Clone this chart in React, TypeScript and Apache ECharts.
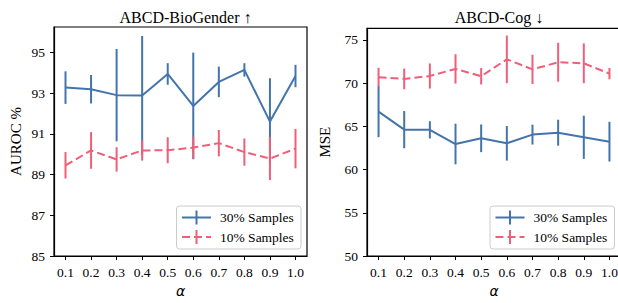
import React, { useEffect, useRef } from "react";
import * as echarts from "echarts";

const alphas = [0.1, 0.2, 0.3, 0.4, 0.5, 0.6, 0.7, 0.8, 0.9, 1.0];

const bioMean30 = [93.28, 93.2, 92.91, 92.89, 93.95, 92.38, 93.56, 94.15, 91.61, 93.85];
const bioErr30 = [0.8, 0.7, 2.27, 2.93, 0.53, 2.62, 0.75, 0.33, 2.13, 0.55];
const bioMean10 = [89.46, 90.19, 89.75, 90.19, 90.2, 90.33, 90.55, 90.11, 89.79, 90.28];
const bioErr10 = [0.65, 0.9, 0.6, 0.5, 0.64, 0.53, 0.65, 0.67, 1.06, 0.97];

const cogMean30 = [66.7, 64.62, 64.6, 62.96, 63.62, 63.04, 64.05, 64.27, 63.74, 63.23];
const cogErr30 = [2.95, 2.15, 1.0, 2.35, 1.6, 2.0, 1.15, 1.5, 2.5, 2.3];
const cogMean10 = [70.68, 70.49, 70.83, 71.65, 70.8, 72.76, 71.6, 72.42, 72.3, 71.1];
const cogErr10 = [1.1, 1.2, 1.45, 1.7, 0.95, 2.75, 1.7, 2.25, 2.3, 0.65];

const bioTicks = [85, 87, 89, 91, 93, 95];
const cogTicks = [50, 55, 60, 65, 70, 75];

const BLUE = "#4374ab";
const PINK = "#ef5f79";
const FONT = "Liberation Serif";

function pairs(xs: number[], ys: number[]) {
  return xs.map((x, i) => [x, ys[i]]);
}
function errData(xs: number[], m: number[], e: number[]) {
  return xs.map((x, i) => [x, m[i] - e[i], m[i] + e[i]]);
}
function errSeries(idx: number, data: number[][], color: string) {
  return {
    type: "custom",
    xAxisIndex: idx,
    yAxisIndex: idx,
    data,
    clip: false,
    renderItem: (params: any, api: any) => {
      const p1 = api.coord([api.value(0), api.value(1)]);
      const p2 = api.coord([api.value(0), api.value(2)]);
      return {
        type: "line",
        shape: { x1: p1[0], y1: p1[1], x2: p2[0], y2: p2[1] },
        style: { stroke: color, lineWidth: 2 },
      };
    },
  };
}

function legendGraphics(bx: number, by: number) {
  const row1 = by + 11.5;
  const row2 = by + 31;
  const lx1 = bx + 5.5;
  const lx2 = bx + 34.5;
  const cx = (lx1 + lx2) / 2;
  const textStyle = { fontFamily: FONT, fontSize: 13.5, fill: "#000", verticalAlign: "middle" };
  return [
    {
      type: "rect",
      shape: { x: bx, y: by, width: 124.5, height: 43, r: 3 },
      style: { fill: "rgba(255,255,255,0.8)", stroke: "#cccccc", lineWidth: 1 },
      z: 100,
    },
    {
      type: "line",
      shape: { x1: lx1, y1: row1, x2: lx2, y2: row1 },
      style: { stroke: BLUE, lineWidth: 2 },
      z: 101,
    },
    {
      type: "line",
      shape: { x1: cx, y1: row1 - 7, x2: cx, y2: row1 + 7 },
      style: { stroke: BLUE, lineWidth: 2 },
      z: 101,
    },
    {
      type: "line",
      shape: { x1: lx1, y1: row2, x2: lx2, y2: row2 },
      style: { stroke: PINK, lineWidth: 2, lineDash: [8, 4] },
      z: 101,
    },
    {
      type: "line",
      shape: { x1: cx, y1: row2 - 7, x2: cx, y2: row2 + 7 },
      style: { stroke: PINK, lineWidth: 2 },
      z: 101,
    },
    {
      type: "text",
      x: bx + 43.5,
      y: row1,
      style: { ...textStyle, text: "30% Samples" },
      z: 101,
    },
    {
      type: "text",
      x: bx + 43.5,
      y: row2,
      style: { ...textStyle, text: "10% Samples" },
      z: 101,
    },
  ];
}

function xAxisCfg(idx: number) {
  return {
    type: "value",
    gridIndex: idx,
    min: 0.055,
    max: 1.045,
    name: "α",
    nameLocation: "middle",
    nameGap: 28,
    nameTextStyle: { fontFamily: "DejaVu Sans", fontStyle: "italic", fontSize: 14, color: "#000" },
    axisLine: { show: true, lineStyle: { color: "#000", width: 1.2 } },
    axisTick: { show: true, length: 4, inside: false, customValues: alphas, lineStyle: { color: "#000", width: 1 } },
    axisLabel: {
      customValues: alphas,
      formatter: (v: number) => v.toFixed(1),
      fontFamily: FONT,
      fontSize: 13.5,
      color: "#000",
      margin: 9,
    },
    splitLine: { show: false },
  };
}

function yAxisCfg(idx: number, min: number, max: number, ticks: number[], name: string, gap: number) {
  return {
    type: "value",
    gridIndex: idx,
    min,
    max,
    name,
    nameLocation: "middle",
    nameGap: gap,
    nameRotate: 90,
    nameTextStyle: { fontFamily: FONT, fontSize: 15, color: "#000" },
    axisLine: { show: true, lineStyle: { color: "#000", width: 1.2 } },
    axisTick: { show: true, length: 4, inside: false, customValues: ticks, lineStyle: { color: "#000", width: 1 } },
    axisLabel: {
      customValues: ticks,
      fontFamily: FONT,
      fontSize: 13.5,
      color: "#000",
      margin: 9,
    },
    splitLine: { show: false },
  };
}

export default function App() {
  const ref = useRef<HTMLDivElement>(null);
  useEffect(() => {
    if (!ref.current) return;
    const chart = echarts.init(ref.current, undefined, { renderer: "svg" });
    chart.setOption({
      animation: false,
      backgroundColor: "#fff",
      title: [
        {
          text: "ABCD-BioGender ↑",
          left: 180.5,
          top: 4,
          textAlign: "center",
          textStyle: { fontFamily: FONT, fontSize: 16, fontWeight: "normal", color: "#000" },
        },
        {
          text: "ABCD-Cog ↓",
          left: 494,
          top: 4,
          textAlign: "center",
          textStyle: { fontFamily: FONT, fontSize: 16, fontWeight: "normal", color: "#000" },
        },
      ],
      grid: [
        { left: 54, top: 27, width: 253, height: 229, show: true, borderColor: "#000", borderWidth: 1.2, backgroundColor: "transparent", outerBoundsMode: "none", containLabel: false },
        { left: 367, top: 28.3, width: 254, height: 227.7, show: true, borderColor: "#000", borderWidth: 1.2, backgroundColor: "transparent", outerBoundsMode: "none", containLabel: false },
      ],
      xAxis: [xAxisCfg(0), xAxisCfg(1)],
      yAxis: [
        yAxisCfg(0, 85, 96.26, bioTicks, "AUROC %", 31),
        yAxisCfg(1, 50, 76.35, cogTicks, "MSE", 35),
      ],
      series: [
        { type: "line", xAxisIndex: 0, yAxisIndex: 0, data: pairs(alphas, bioMean30), symbol: "none", lineStyle: { color: BLUE, width: 2 } },
        errSeries(0, errData(alphas, bioMean30, bioErr30), BLUE),
        { type: "line", xAxisIndex: 0, yAxisIndex: 0, data: pairs(alphas, bioMean10), symbol: "none", lineStyle: { color: PINK, width: 2, type: [8, 4] } },
        errSeries(0, errData(alphas, bioMean10, bioErr10), PINK),
        { type: "line", xAxisIndex: 1, yAxisIndex: 1, data: pairs(alphas, cogMean30), symbol: "none", lineStyle: { color: BLUE, width: 2 } },
        errSeries(1, errData(alphas, cogMean30, cogErr30), BLUE),
        { type: "line", xAxisIndex: 1, yAxisIndex: 1, data: pairs(alphas, cogMean10), symbol: "none", lineStyle: { color: PINK, width: 2, type: [8, 4] } },
        errSeries(1, errData(alphas, cogMean10, cogErr10), PINK),
      ],
      graphic: [...legendGraphics(176.5, 206), ...legendGraphics(490, 206)],
    });
    return () => chart.dispose();
  }, []);
  return (
    <div style={{ position: "absolute", left: 0, top: 0, width: 618, height: 303, overflow: "hidden" }}>
      <div ref={ref} style={{ width: 660, height: 303 }} />
    </div>
  );
}
